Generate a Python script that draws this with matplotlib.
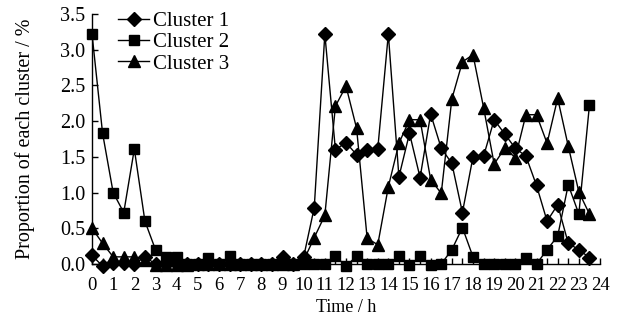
import matplotlib
matplotlib.use("Agg")
import matplotlib.pyplot as plt

hours = [0, 0.5, 1, 1.5, 2, 2.5, 3, 3.5, 4, 4.5, 5, 5.5, 6, 6.5, 7, 7.5,
         8, 8.5, 9, 9.5, 10, 10.5, 11, 11.5, 12, 12.5, 13, 13.5, 14, 14.5, 15, 15.5,
         16, 16.5, 17, 17.5, 18, 18.5, 19, 19.5, 20, 20.5, 21, 21.5, 22, 22.5, 23, 23.5]

cluster1 = [0.12, -0.03, 0.02, 0.02, 0.0, 0.1, 0, 0, 0, 0, 0, 0, 0, 0, 0, 0,
            0, 0, 0.1, 0, 0.1, 0.79, 3.22, 1.6, 1.7, 1.53, 1.6, 1.61, 3.22, 1.22, 1.83, 1.21,
            2.1, 1.62, 1.41, 0.72, 1.5, 1.51, 2.02, 1.82, 1.62, 1.51, 1.1, 0.6, 0.83, 0.29, 0.2, 0.09]

cluster2 = [3.22, 1.83, 1.0, 0.72, 1.61, 0.6, 0.2, 0.1, 0.1, 0, 0, 0.08, 0, 0.11, 0, 0,
            0, 0, 0, 0, 0, 0, 0, 0.11, -0.03, 0.11, 0, 0, 0, 0.11, -0.02, 0.11,
            -0.02, 0, 0.2, 0.51, 0.1, 0, 0, 0, 0, 0.09, 0, 0.2, 0.39, 1.11, 0.7, 2.22]

cluster3 = [0.5, 0.29, 0.1, 0.1, 0.1, 0.05, -0.02, -0.02, -0.02, -0.02, 0, 0, 0, 0, 0, 0,
            0, 0, 0, 0, 0.05, 0.37, 0.68, 2.21, 2.49, 1.9, 0.36, 0.27, 1.08, 1.69, 2.02, 2.02,
            1.18, 0.99, 2.31, 2.83, 2.93, 2.19, 1.4, 1.62, 1.49, 2.09, 2.09, 1.69, 2.32, 1.65, 1.01, 0.7]

series_labels = ["Cluster 1", "Cluster 2", "Cluster 3"]
x_tick_labels = [str(h) for h in range(0, 25)]
y_ticks = [0.0, 0.5, 1.0, 1.5, 2.0, 2.5, 3.0, 3.5]

plt.rcParams['font.family'] = ['Liberation Serif', 'DejaVu Serif']
plt.rcParams['font.size'] = 12

fig = plt.figure(figsize=(6.2, 3.22), dpi=100)
ax = fig.add_axes([92 / 620, 1 - 264 / 322, 508 / 620, 250 / 322])

lw = 1.0
ax.plot(hours, cluster1, color='black', lw=lw, marker='D', markersize=7,
        label=series_labels[0], clip_on=False, zorder=3)
ax.plot(hours, cluster2, color='black', lw=lw, marker='s', markersize=7,
        label=series_labels[1], clip_on=False, zorder=3)
ax.plot(hours, cluster3, color='black', lw=lw, marker='^', markersize=8.5,
        label=series_labels[2], clip_on=False, zorder=3)

ax.set_xlim(0, 24)
ax.set_ylim(0, 3.5)
ax.set_xticks(range(0, 25))
ax.set_xticklabels(x_tick_labels, fontsize=13.5)
ax.set_xticks([h + 0.5 for h in range(0, 24)], minor=True)
ax.set_yticks(y_ticks)
ax.set_yticklabels([f"{v:.1f}" for v in y_ticks], fontsize=14.5)

for s in ['top', 'right']:
    ax.spines[s].set_visible(False)
for s in ['left', 'bottom']:
    ax.spines[s].set_linewidth(1.0)

ax.tick_params(axis='both', which='both', direction='in', length=4, width=1.0)
ax.tick_params(axis='x', pad=9)
ax.tick_params(axis='y', pad=5)

ax.set_xlabel("Time / h", labelpad=4, fontsize=13)
ax.set_ylabel("Proportion of each cluster / %", labelpad=18, fontsize=14.5)

leg = ax.legend(loc='upper left', bbox_to_anchor=(0.051, 1.01), frameon=False,
                handlelength=1.5, handletextpad=0.2, labelspacing=0.08, borderpad=0,
                borderaxespad=0, fontsize=15)

fig.savefig("out.png", dpi=100)
